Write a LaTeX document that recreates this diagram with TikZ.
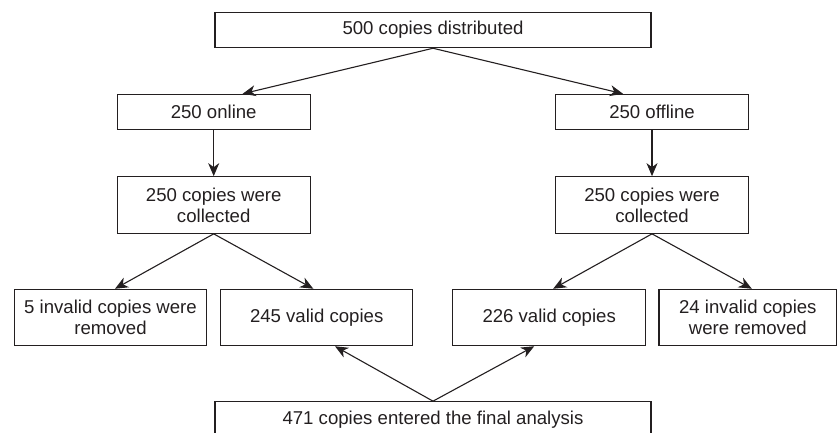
\documentclass[tikz,border=0pt]{standalone}
\usepackage{fontspec}
\setmainfont{Liberation Sans}
\usetikzlibrary{arrows.meta}
\definecolor{ink}{RGB}{35,31,32}
\begin{document}
\begin{tikzpicture}[x=1pt,y=-1pt,
  box/.style={draw=ink, line width=1.1pt, rectangle, inner sep=0pt, align=center,
    text=ink, font=\fontsize{18.6}{21}\selectfont},
  arr/.style={draw=ink, line width=1.1pt, -{Stealth[length=13pt,width=11pt,inset=4pt]}}]
\useasboundingbox (0,0) rectangle (837,432);
\node[box, minimum width=436pt, minimum height=35.4pt] (top) at (433,30) {500 copies distributed};
\node[box, minimum width=192.7pt, minimum height=35.4pt] (online) at (213.7,112) {250 online};
\node[box, minimum width=192.7pt, minimum height=35.4pt] (offline) at (652,112) {250 offline};
\node[box, minimum width=192.7pt, minimum height=56.6pt] (colL) at (213.7,205) {250 copies were\\collected};
\node[box, minimum width=192.7pt, minimum height=56.6pt] (colR) at (652,205) {250 copies were\\collected};
\node[box, minimum width=192.4pt, minimum height=56.4pt] (inv5) at (110.5,317.5) {5 invalid copies were\\removed};
\node[box, minimum width=192pt, minimum height=56.4pt] (val245) at (316.7,317.5) {245 valid copies};
\node[box, minimum width=193pt, minimum height=56.4pt] (val226) at (549.2,317.5) {226 valid copies};
\node[box, minimum width=177.7pt, minimum height=56.4pt] (inv24) at (747.8,317.5) {24 invalid copies\\were removed};
\node[box, minimum width=436pt, minimum height=35.4pt] (final) at (433,419.4) {471 copies entered the final analysis};
\draw[arr] (top.south) -- ([xshift=29pt]online.north);
\draw[arr] (top.south) -- ([xshift=-29pt]offline.north);
\draw[arr] (online.south) -- (colL.north);
\draw[arr] (offline.south) -- (colR.north);
\draw[arr] (colL.south) -- ([xshift=4.5pt]inv5.north);
\draw[arr] (colL.south) -- ([xshift=-3.4pt]val245.north);
\draw[arr] (colR.south) -- ([xshift=4pt]val226.north);
\draw[arr] (colR.south) -- ([xshift=4pt]inv24.north);
\draw[arr] (final.north) -- ([xshift=18.3pt]val245.south);
\draw[arr] (final.north) -- ([xshift=-15pt]val226.south);
\end{tikzpicture}
\end{document}
